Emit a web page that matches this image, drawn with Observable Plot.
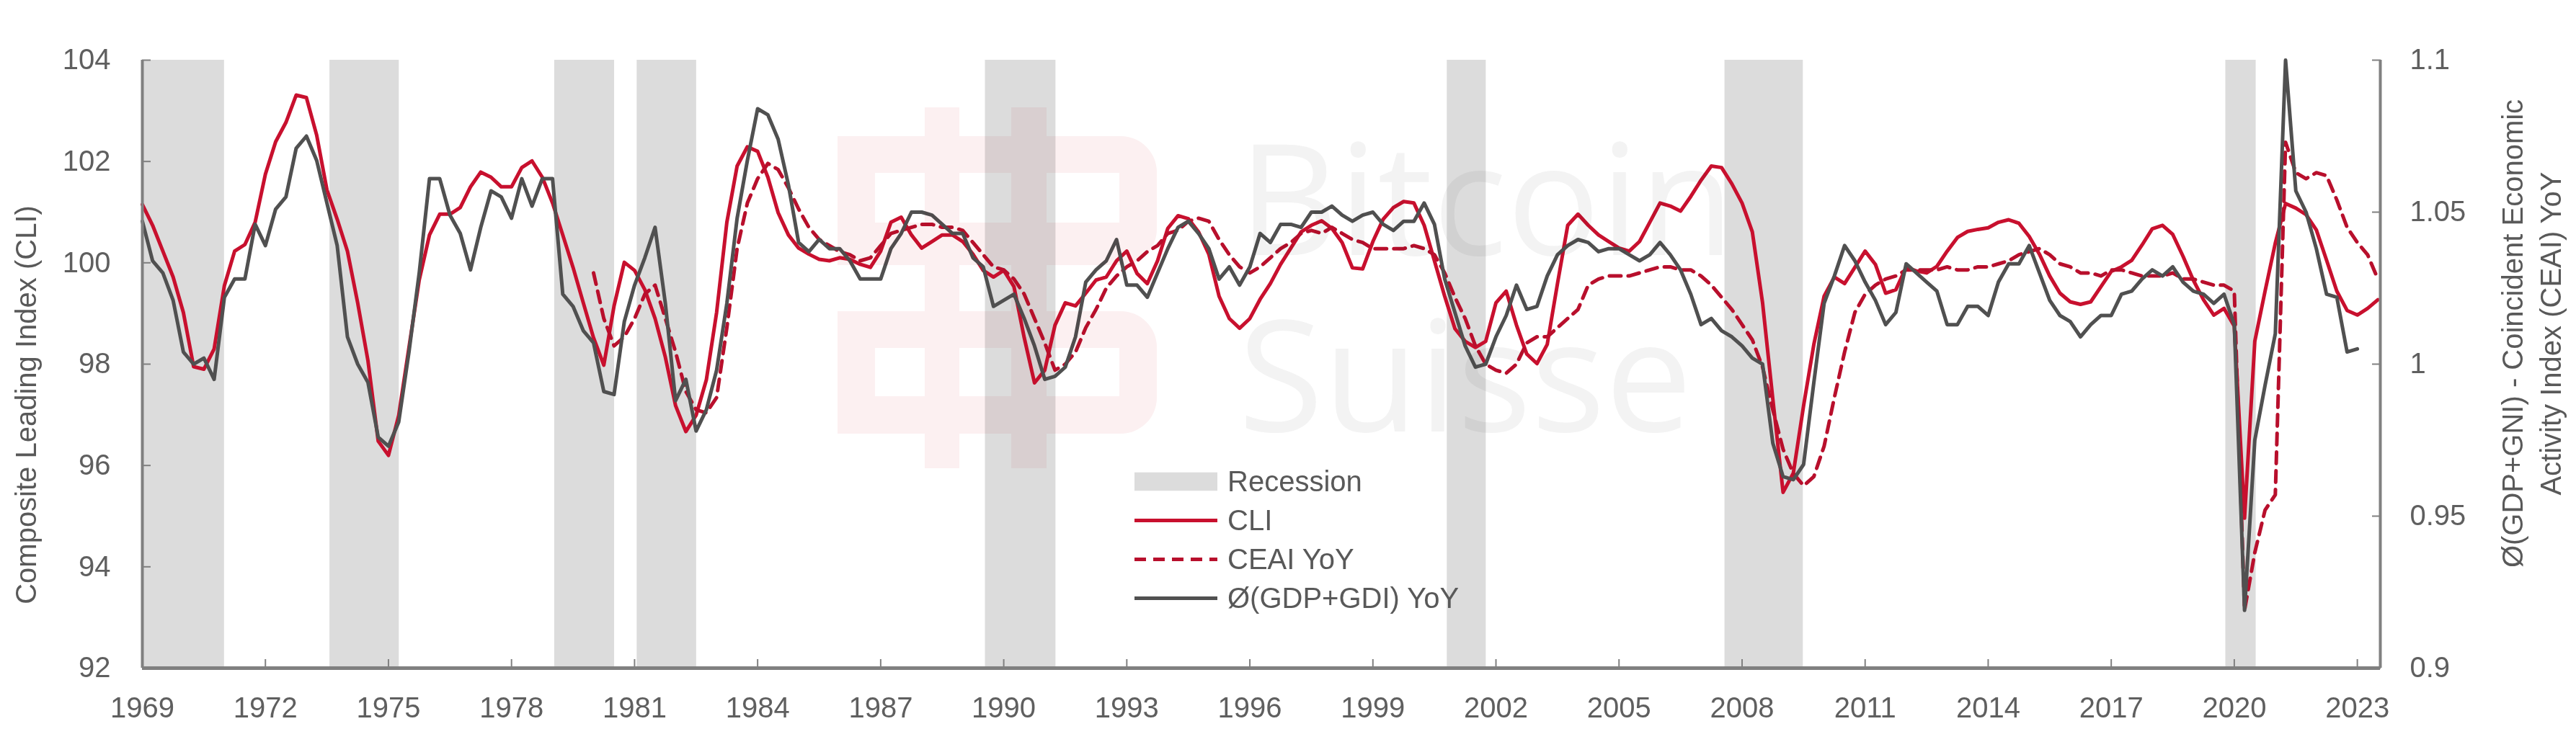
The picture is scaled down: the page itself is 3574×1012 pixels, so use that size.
<!DOCTYPE html>
<html>
<head>
<meta charset="utf-8">
<script src="https://cdn.jsdelivr.net/npm/d3@7"></script>
<script src="https://cdn.jsdelivr.net/npm/@observablehq/plot@0.6"></script>
<style>
  html, body { margin: 0; padding: 0; background: #fff; }
  #wrap { position: relative; width: 3574px; height: 1012px; overflow: hidden;
          font-family: "Liberation Sans", Arial, Helvetica, sans-serif; color: #595959; }
  #chart { position: absolute; left: 0; top: 0; }
  .wm { position: absolute; pointer-events: none; mix-blend-mode: multiply; }
  .wmtext { font-family: "Open Sans", sans-serif; font-size: 215px; line-height: 215px; color: #f3f3f3; white-space: nowrap; }
  .row { position: absolute; left: 1574px; transform: translateY(-50%); display: flex; align-items: center; gap: 14px;
         font-size: 40px; color: #595959; white-space: nowrap; }
  .row svg { display: block; }
  .ytitle { position: absolute; transform: translate(-50%, -50%) rotate(-90deg); white-space: nowrap;
            font-size: 40px; color: #595959; text-align: center; line-height: 53px; }
</style>
</head>
<body>
<div id="wrap">
  <div id="chart"></div>
  <svg class="wm" style="left:1150px;top:140px" width="480" height="520">
    <g fill="#fcf0f1">
      <path d="M12 49 H405 A50 50 0 0 1 455 99 V178 A50 50 0 0 1 405 228 H12 Z M64 100 V169 H403 V100 Z" fill-rule="evenodd"/>
      <path d="M12 292 H405 A50 50 0 0 1 455 342 V412 A50 50 0 0 1 405 462 H12 Z M64 343 V410 H403 V343 Z" fill-rule="evenodd"/>
      <rect x="133" y="9" width="48" height="501"/>
      <rect x="253" y="9" width="49" height="501"/>
    </g>
  </svg>
  <div class="wm wmtext" style="left:1718px;top:163px">Bitcoin</div>
  <div class="wm wmtext" style="left:1718px;top:408px">Suisse</div>

  <div class="row" style="top:668px"><svg width="115" height="26"><rect x="0" y="0" width="115" height="26" fill="#dcdcdc"/></svg><span>Recession</span></div>
  <div class="row" style="top:722px"><svg width="115" height="26"><line x1="0" y1="13" x2="115" y2="13" stroke="#c8102e" stroke-width="5"/></svg><span>CLI</span></div>
  <div class="row" style="top:776px"><svg width="115" height="26"><line x1="0" y1="13" x2="115" y2="13" stroke="#b80f2c" stroke-width="5" stroke-dasharray="16,10"/></svg><span>CEAI YoY</span></div>
  <div class="row" style="top:830px"><svg width="115" height="26"><line x1="0" y1="13" x2="115" y2="13" stroke="#505050" stroke-width="5"/></svg><span>Ø(GDP+GDI) YoY</span></div>

  <div class="ytitle" style="left:36px;top:562px">Composite Leading Index (CLI)</div>
  <div class="ytitle" style="left:3513px;top:463px">Ø(GDP+GNI) - Coincident Economic<br>Activity Index (CEAI) YoY</div>
</div>
<script>
// ---------------- data (quarterly observations) ----------------
const cliStart = 1969;   // first quarter of CLI series
const cli = [
  101.15, 100.74, 100.23, 99.72,   99.02, 97.95, 97.9, 98.3,     99.55, 100.23, 100.36, 100.8,
  101.75, 102.39, 102.77, 103.31,  103.26, 102.52, 101.44, 100.86, 100.23, 99.21, 98.07, 96.48,
  96.2, 96.99, 98.33, 99.66,       100.55, 100.96, 100.96, 101.09, 101.5, 101.79, 101.69, 101.5,
  101.5, 101.88, 102.01, 101.69,   101.18, 100.55, 99.91, 99.21,  98.52, 97.98, 99.15, 100.01,
  99.85, 99.47, 98.9, 98.14,       97.18, 96.67, 96.99, 97.69,    99.02, 100.8, 101.91, 102.29,
  102.2, 101.69, 100.99, 100.55,   100.29, 100.17, 100.07, 100.04, 100.1, 100.07, 99.97, 99.91,
  100.23, 100.8, 100.9, 100.55,    100.29, 100.42, 100.55, 100.55, 100.42, 100.17, 99.85, 99.72,
  99.85, 99.53, 98.52, 97.63,      97.88, 98.77, 99.21, 99.15,    99.4, 99.66, 99.72, 100.04,
  100.23, 99.79, 99.59, 100.04,    100.68, 100.93, 100.87, 100.61, 100.17, 99.34, 98.9, 98.71,
  98.9, 99.28, 99.59, 99.97,       100.29, 100.61, 100.74, 100.83, 100.68, 100.4, 99.9, 99.88,
  100.42, 100.86, 101.09, 101.21,  101.18, 100.74, 100.04, 99.34, 98.7, 98.45, 98.33, 98.45,
  99.21, 99.44, 98.77, 98.2,       98.01, 98.39, 99.59, 100.74,   100.96, 100.74, 100.55, 100.42,
  100.29, 100.23, 100.42, 100.8,   101.18, 101.12, 101.02, 101.31, 101.63, 101.91, 101.88, 101.56,
  101.18, 100.61, 99.21, 97.31,    95.47, 95.85, 97.18, 98.39,    99.34, 99.72, 99.59, 99.91,
  100.23, 99.97, 99.4, 99.47,      99.91, 99.84, 99.8, 99.93,     100.23, 100.5, 100.62, 100.66,
  100.69, 100.8, 100.85, 100.78,   100.52, 100.17, 99.74, 99.4,   99.23, 99.18, 99.23, 99.53,
  99.83, 99.92, 100.05, 100.35,    100.67, 100.74, 100.56, 100.13, 99.66, 99.27, 98.97, 99.1,
  98.75, 94.96, 98.45, 99.44,      100.39, 101.17, 101.08, 100.95, 100.65, 100.05, 99.44, 99.06,
  98.97, 99.1, 99.27
];

const gdpStart = 1969;   // Ø(GDP+GDI) YoY, right axis units
const gdp = [
  1.047, 1.034, 1.030, 1.021,  1.004, 1.000, 1.002, 0.995,  1.022, 1.028, 1.028, 1.046,
  1.039, 1.051, 1.055, 1.071,  1.075, 1.067, 1.053, 1.039,  1.009, 1.000, 0.994, 0.976,
  0.973, 0.981, 1.004, 1.030,  1.061, 1.061, 1.049, 1.043,  1.031, 1.045, 1.057, 1.055,
  1.048, 1.061, 1.052, 1.061,  1.061, 1.023, 1.019, 1.011,  1.007, 0.991, 0.990, 1.014,
  1.026, 1.035, 1.045, 1.020,  0.988, 0.995, 0.978, 0.985,  0.998, 1.020, 1.048, 1.067,
  1.084, 1.082, 1.074, 1.059,  1.040, 1.037, 1.041, 1.038,  1.038, 1.034, 1.028, 1.028,
  1.028, 1.038, 1.043, 1.050,  1.050, 1.049, 1.046, 1.043,  1.043, 1.035, 1.032, 1.019,
  1.021, 1.023, 1.015, 1.006,  0.995, 0.996, 0.999, 1.009,  1.027, 1.031, 1.034, 1.041,
  1.026, 1.026, 1.022, 1.030,  1.038, 1.045, 1.047, 1.043,  1.038, 1.028, 1.032, 1.026,
  1.032, 1.043, 1.040, 1.046,  1.046, 1.045, 1.050, 1.050,  1.052, 1.049, 1.047, 1.049,
  1.050, 1.046, 1.044, 1.047,  1.047, 1.053, 1.046, 1.028,  1.017, 1.006, 0.999, 1.000,
  1.009, 1.016, 1.026, 1.018,  1.019, 1.029, 1.036, 1.039,  1.041, 1.040, 1.037, 1.038,
  1.038, 1.036, 1.034, 1.036,  1.040, 1.036, 1.031, 1.023,  1.013, 1.015, 1.011, 1.009,
  1.006, 1.002, 1.000, 0.974,  0.963, 0.962, 0.967, 0.994,  1.020, 1.029, 1.039, 1.034,
  1.027, 1.021, 1.013, 1.017,  1.033, 1.030, 1.027, 1.024,  1.013, 1.013, 1.019, 1.019,
  1.016, 1.027, 1.033, 1.033,  1.039, 1.030, 1.021, 1.016,  1.014, 1.009, 1.013, 1.016,
  1.016, 1.023, 1.024, 1.028,  1.031, 1.029, 1.032, 1.027,  1.024, 1.023, 1.020, 1.023,
  1.013, 0.919, 0.975, 0.993,  1.010, 1.115, 1.057, 1.050,  1.038, 1.023, 1.022, 1.004,
  1.005
];

const ceaiStart = 1980;  // CEAI YoY, right axis units
const ceai = [
  1.030, 1.015, 1.006, 1.009,  1.015, 1.023, 1.026, 1.015,  1.004, 0.991, 0.985, 0.984,
  0.989, 1.012, 1.038, 1.053,  1.061, 1.066, 1.064, 1.058,  1.051, 1.045, 1.041, 1.039,
  1.037, 1.036, 1.034, 1.035,  1.039, 1.043, 1.044, 1.045,  1.046, 1.046, 1.045, 1.045,
  1.044, 1.040, 1.036, 1.032,  1.031, 1.028, 1.023, 1.015,  1.007, 0.998, 1.000, 1.004,
  1.012, 1.018, 1.025, 1.029,  1.032, 1.034, 1.037, 1.039,  1.043, 1.044, 1.047, 1.048,
  1.047, 1.041, 1.036, 1.032,  1.030, 1.032, 1.035, 1.038,  1.040, 1.043, 1.044, 1.043,
  1.045, 1.043, 1.041, 1.040,  1.038, 1.038, 1.038, 1.038,  1.039, 1.038, 1.036, 1.030,
  1.022, 1.015, 1.006, 1.000,  0.998, 0.997, 1.000, 1.007,  1.009, 1.009, 1.012, 1.015,
  1.018, 1.026, 1.028, 1.029,  1.029, 1.029, 1.030, 1.031,  1.032, 1.032, 1.031, 1.031,
  1.029, 1.026, 1.022, 1.018,  1.013, 1.008, 0.999, 0.985,  0.972, 0.964, 0.960, 0.963,
  0.973, 0.989, 1.004, 1.017,  1.023, 1.026, 1.028, 1.029,  1.031, 1.031, 1.031, 1.031,
  1.032, 1.031, 1.031, 1.032,  1.032, 1.033, 1.034, 1.036,  1.037, 1.038, 1.036, 1.033,
  1.032, 1.030, 1.030, 1.029,  1.031, 1.031, 1.030, 1.029,  1.029, 1.029, 1.030, 1.028,
  1.028, 1.027, 1.026, 1.026,  1.024, 0.919, 0.938, 0.952,  0.957, 1.073, 1.063, 1.061,
  1.063, 1.062, 1.054, 1.045,  1.040, 1.036, 1.028
];

const recessionStart = [1969.0, 1973.57, 1979.05, 1981.06, 1989.55, 2000.81, 2007.58, 2019.79];
const recessionEnd   = [1971.0, 1975.26, 1980.51, 1982.51, 1991.27, 2001.76, 2009.49, 2020.53];

const xDomain = [1969, 2023.56];
const xTicks = [1969, 1972, 1975, 1978, 1981, 1984, 1987, 1990, 1993, 1996, 1999, 2002, 2005, 2008, 2011, 2014, 2017, 2020, 2023];
const leftDomain = [92, 104];
const leftTicks = [92, 94, 96, 98, 100, 102, 104];
const rightDomain = [0.9, 1.1];
const rightTicks = [0.9, 0.95, 1, 1.05, 1.1];

// ---------------- helpers ----------------
const quarter = 0.25;
const series = (start, vals) => vals.map((v, i) => ({t: start + i * quarter, v}));
// right-axis values are drawn on the shared y scale (linear, aligned extremes)
const toLeft = v => leftDomain[0] + (v - rightDomain[0]) * (leftDomain[1] - leftDomain[0]) / (rightDomain[1] - rightDomain[0]);
const toRight = v => rightDomain[0] + (v - leftDomain[0]) * (rightDomain[1] - rightDomain[0]) / (leftDomain[1] - leftDomain[0]);
const capTop = v => Math.min(v, leftDomain[1]);

const cliData = series(cliStart, cli);
const gdpData = series(gdpStart, gdp);
const ceaiData = series(ceaiStart, ceai);
const recessions = recessionStart.map((s, i) => ({start: s, end: recessionEnd[i]}));

const axisColor = "#808080";
const shadow = {dx: 2, dy: 7, stroke: "#000", strokeOpacity: 0.22, strokeWidth: 8, ariaLabel: "shadow"};
const chart = Plot.plot({
  width: 3574,
  height: 1012,
  marginLeft: 197,
  marginRight: 272,
  marginTop: 83,
  marginBottom: 85,
  x: {domain: xDomain, axis: null},
  y: {domain: leftDomain, axis: null},
  style: {background: "white", color: "#5f5f5f", fontFamily: "'Liberation Sans', Arial, sans-serif", fontSize: "40px"},
  marks: [
    Plot.rect(recessions, {x1: "start", x2: "end", fill: "#dcdcdc"}),
    // soft shadows under the series
    Plot.line(cliData, {x: "t", y: "v", ...shadow}),
    Plot.line(ceaiData, {x: "t", y: d => toLeft(d.v), ...shadow, strokeDasharray: "16,10"}),
    Plot.line(gdpData, {x: "t", y: d => capTop(toLeft(d.v)), ...shadow}),
    // series
    Plot.line(cliData, {x: "t", y: "v", stroke: "#c8102e", strokeWidth: 5}),
    Plot.line(ceaiData, {x: "t", y: d => toLeft(d.v), stroke: "#b80f2c", strokeWidth: 5, strokeDasharray: "16,10"}),
    Plot.line(gdpData, {x: "t", y: d => capTop(toLeft(d.v)), stroke: "#505050", strokeWidth: 5}),
    // axis lines
    Plot.ruleX(xDomain, {stroke: axisColor, strokeWidth: 4}),
    Plot.ruleY([leftDomain[0]], {stroke: axisColor, strokeWidth: 5}),
    // inward ticks
    Plot.axisY(leftTicks, {anchor: "left", tickSize: 12, dx: 12, stroke: axisColor, strokeWidth: 2, tickFormat: () => "", label: null}),
    Plot.axisY(rightTicks.map(toLeft), {anchor: "right", tickSize: 12, dx: -12, stroke: axisColor, strokeWidth: 2, tickFormat: () => "", label: null}),
    Plot.axisX(xTicks, {anchor: "bottom", tickSize: 12, dy: -12, stroke: axisColor, strokeWidth: 2, tickFormat: () => "", label: null}),
    // tick labels
    Plot.axisY(leftTicks, {anchor: "left", tickSize: 0, tickPadding: 44, label: null, tickFormat: d => String(d)}),
    Plot.axisY(rightTicks.map(toLeft), {anchor: "right", tickSize: 0, tickPadding: 41, label: null,
      tickFormat: d => String(+toRight(d).toFixed(3))}),
    Plot.axisX(xTicks, {anchor: "bottom", tickSize: 0, tickPadding: 40, label: null, tickFormat: d => String(d)})
  ]
});

// blur the shadow strokes so they read as soft drop shadows
const svgNS = "http://www.w3.org/2000/svg";
const defs = document.createElementNS(svgNS, "defs");
const filter = document.createElementNS(svgNS, "filter");
filter.setAttribute("id", "soft-shadow");
filter.setAttribute("x", "-5%"); filter.setAttribute("y", "-5%");
filter.setAttribute("width", "110%"); filter.setAttribute("height", "110%");
const blur = document.createElementNS(svgNS, "feGaussianBlur");
blur.setAttribute("stdDeviation", "3");
filter.appendChild(blur);
defs.appendChild(filter);
chart.insertBefore(defs, chart.firstChild);
chart.querySelectorAll('g[aria-label="shadow"]').forEach(g => g.setAttribute("filter", "url(#soft-shadow)"));

document.getElementById("chart").appendChild(chart);
</script>
</body>
</html>
